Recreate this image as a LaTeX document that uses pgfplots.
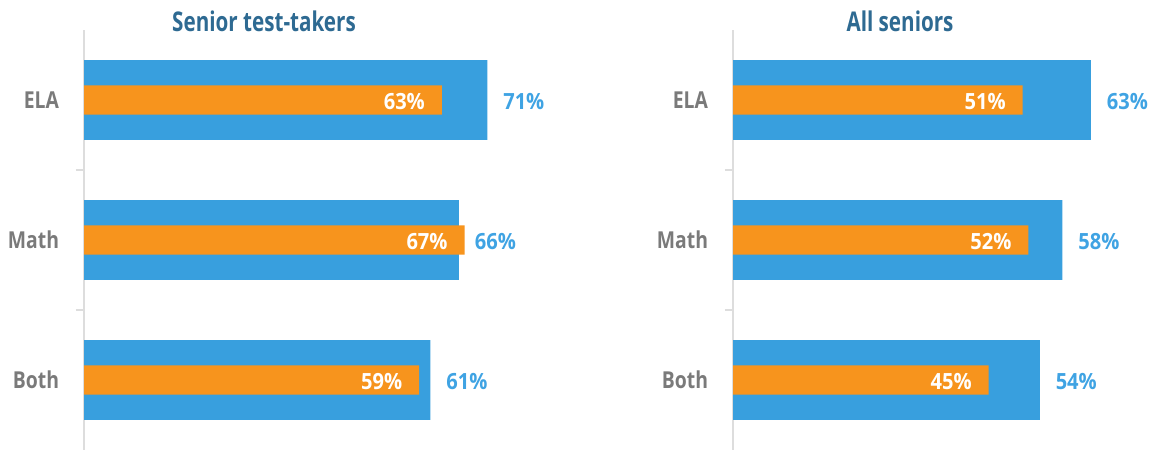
\documentclass[border=0pt]{standalone}
\usepackage{fontspec}
\setmainfont{Open Sans}[FakeStretch=0.85]
\newfontfamily\titlefont{Open Sans}[FakeStretch=0.76]
\newfontfamily\tickfont{Open Sans}[FakeStretch=0.83]
\newfontfamily\valfont{Open Sans}[FakeStretch=0.9]
\usepackage{pgfplots}
\pgfplotsset{compat=1.18}
\definecolor{barblue}{HTML}{389FDE}
\definecolor{barorange}{HTML}{F7941D}
\definecolor{labblue}{HTML}{3FA3E3}
\definecolor{titleblue}{HTML}{2E6A92}
\definecolor{tickgray}{HTML}{7A7A7A}
\definecolor{axgray}{HTML}{DDDDDD}
\pgfplotsset{
  mybars/.style={
    scale only axis,
    xbar, bar shift=0pt,
    xmin=0, ymin=-0.5, ymax=2.5, y dir=reverse,
    height=252pt,
    axis y line=left, axis x line=none,
    axis line style={-, draw=axgray, line width=1pt},
    ytick={0,1,2}, yticklabels={ELA,Math,Both},
    major tick length=0pt,
    yticklabel style={font=\tickfont\fontsize{14}{16}\selectfont\bfseries, text=tickgray, inner xsep=0pt, xshift=-14.8pt},
    extra y ticks={0.5,1.5}, extra y tick labels={},
    extra y tick style={major tick length=5pt, tick align=outside, tick style={draw=axgray, line width=1pt}},
    /pgf/number format/assume math mode=true,
    nodes near coords={\pgfmathprintnumber{\pgfplotspointmeta}\%},
    every node near coord/.append style={font=\valfont\fontsize{13.4}{15}\selectfont\bfseries, inner xsep=0pt, yshift=-1pt},
    clip=false,
  }
}
\begin{document}
\begin{tikzpicture}
\useasboundingbox (0,0) rectangle (689.4pt,270pt);
% Left panel
\begin{axis}[mybars, at={(50.4pt,0pt)}, anchor=south west, width=272.64pt, xmax=80]
\addplot[fill=barblue, draw=none, bar width=0.57,
  every node near coord/.append style={text=labblue, anchor=west, xshift=9.4pt}]
  coordinates {(71,0) (66,1) (61,2)};
\addplot[fill=barorange, draw=none, bar width=0.21,
  every node near coord/.append style={text=white, anchor=east, xshift=-10pt}]
  coordinates {(63,0) (67,1) (59,2)};
\end{axis}
% Right panel
\begin{axis}[mybars, at={(439.8pt,0pt)}, anchor=south west, width=245.4pt, xmax=72]
\addplot[fill=barblue, draw=none, bar width=0.57,
  every node near coord/.append style={text=labblue, anchor=west, xshift=9.4pt}]
  coordinates {(63,0) (58,1) (54,2)};
\addplot[fill=barorange, draw=none, bar width=0.21,
  every node near coord/.append style={text=white, anchor=east, xshift=-10pt}]
  coordinates {(51,0) (52,1) (45,2)};
\end{axis}
\node[anchor=base, font=\titlefont\fontsize{16.3}{20}\selectfont\bfseries, text=titleblue] at (158.4pt,251pt) {Senior test-takers};
\node[anchor=base, font=\titlefont\fontsize{16.3}{20}\selectfont\bfseries, text=titleblue] at (540pt,251pt) {All seniors};
\end{tikzpicture}
\end{document}
